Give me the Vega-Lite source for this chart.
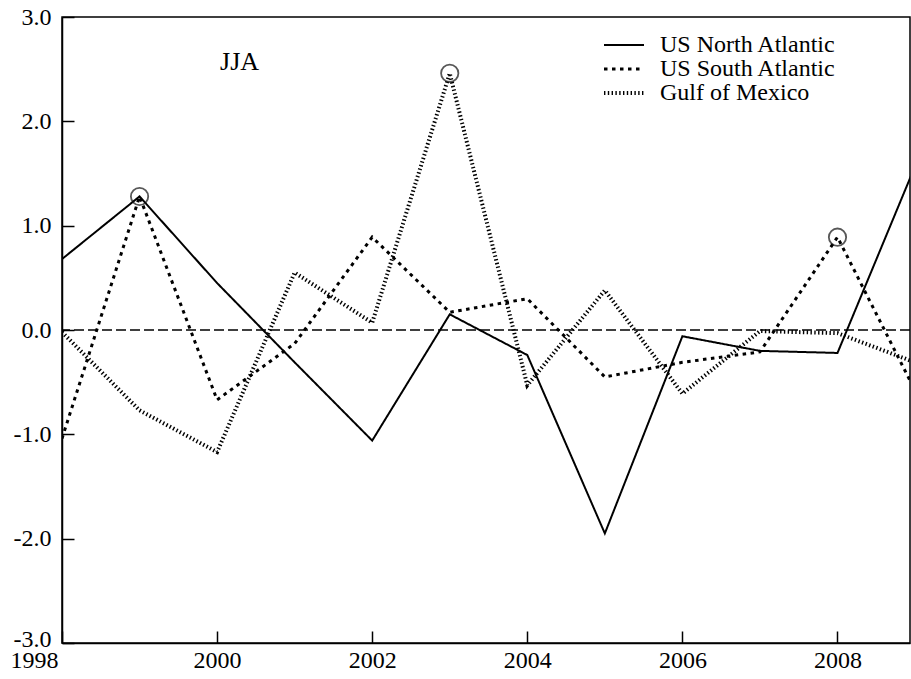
{
  "$schema": "https://vega.github.io/schema/vega-lite/v6.json",
  "width": 848,
  "height": 626,
  "autosize": {"type": "none"},
  "padding": {"left": 62, "top": 17, "right": 1, "bottom": 36},
  "background": "white",
  "config": {
    "view": {"stroke": "black", "strokeWidth": 1.5},
    "font": "Liberation Serif",
    "axis": {
      "grid": false,
      "title": null,
      "domainColor": "black",
      "domainWidth": 1.5,
      "tickColor": "black",
      "tickWidth": 1.5,
      "tickSize": -12,
      "labelFlush": false,
      "labelFont": "Liberation Serif",
      "labelFontSize": 24,
      "labelColor": "black"
    },
    "legend": {
      "orient": "none",
      "legendX": 540,
      "legendY": 16,
      "title": null,
      "symbolType": "M-1,0H3",
      "symbolSize": 400,
      "symbolStrokeColor": "black",
      "labelFont": "Liberation Serif",
      "labelFontSize": 24,
      "labelColor": "black",
      "labelLimit": 400,
      "labelOffset": 34,
      "rowPadding": -2
    }
  },
  "datasets": {
    "series": [
      {"year": 1998, "value": 0.68, "region": "US North Atlantic"},
      {"year": 1999, "value": 1.28, "region": "US North Atlantic"},
      {"year": 2000, "value": 0.45, "region": "US North Atlantic"},
      {"year": 2001, "value": -0.31, "region": "US North Atlantic"},
      {"year": 2002, "value": -1.06, "region": "US North Atlantic"},
      {"year": 2003, "value": 0.15, "region": "US North Atlantic"},
      {"year": 2004, "value": -0.24, "region": "US North Atlantic"},
      {"year": 2005, "value": -1.95, "region": "US North Atlantic"},
      {"year": 2006, "value": -0.06, "region": "US North Atlantic"},
      {"year": 2007, "value": -0.2, "region": "US North Atlantic"},
      {"year": 2008, "value": -0.22, "region": "US North Atlantic"},
      {"year": 2009, "value": 1.57, "region": "US North Atlantic"},
      {"year": 1998, "value": -1.04, "region": "US South Atlantic"},
      {"year": 1999, "value": 1.28, "region": "US South Atlantic"},
      {"year": 2000, "value": -0.67, "region": "US South Atlantic"},
      {"year": 2001, "value": -0.13, "region": "US South Atlantic"},
      {"year": 2002, "value": 0.89, "region": "US South Atlantic"},
      {"year": 2003, "value": 0.17, "region": "US South Atlantic"},
      {"year": 2004, "value": 0.3, "region": "US South Atlantic"},
      {"year": 2005, "value": -0.45, "region": "US South Atlantic"},
      {"year": 2006, "value": -0.31, "region": "US South Atlantic"},
      {"year": 2007, "value": -0.21, "region": "US South Atlantic"},
      {"year": 2008, "value": 0.89, "region": "US South Atlantic"},
      {"year": 2009, "value": -0.58, "region": "US South Atlantic"},
      {"year": 1998, "value": -0.02, "region": "Gulf of Mexico"},
      {"year": 1999, "value": -0.77, "region": "Gulf of Mexico"},
      {"year": 2000, "value": -1.17, "region": "Gulf of Mexico"},
      {"year": 2001, "value": 0.55, "region": "Gulf of Mexico"},
      {"year": 2002, "value": 0.07, "region": "Gulf of Mexico"},
      {"year": 2003, "value": 2.46, "region": "Gulf of Mexico"},
      {"year": 2004, "value": -0.53, "region": "Gulf of Mexico"},
      {"year": 2005, "value": 0.38, "region": "Gulf of Mexico"},
      {"year": 2006, "value": -0.61, "region": "Gulf of Mexico"},
      {"year": 2007, "value": -0.01, "region": "Gulf of Mexico"},
      {"year": 2008, "value": -0.03, "region": "Gulf of Mexico"},
      {"year": 2009, "value": -0.31, "region": "Gulf of Mexico"}
    ],
    "peaks": [
      {"year": 1999, "value": 1.28},
      {"year": 2003, "value": 2.46},
      {"year": 2008, "value": 0.89}
    ],
    "season": [
      {"year": 2000.29, "value": 2.57, "text": "JJA"}
    ],
    "baseline": [
      {"value": 0}
    ]
  },
  "encoding": {
    "x": {
      "field": "year",
      "type": "quantitative",
      "scale": {"domain": [1998, 2008.935], "nice": false, "zero": false},
      "axis": {
        "values": [1998, 2000, 2002, 2004, 2006, 2008],
        "format": "d",
        "labelPadding": 17,
        "labelFlush": false,
        "labelAlign": {"condition": {"test": "datum.value == 1998", "value": "right"}, "value": "center"},
        "labelOffset": {"condition": {"test": "datum.value == 1998", "value": -4}, "value": 0}
      }
    },
    "y": {
      "field": "value",
      "type": "quantitative",
      "scale": {"domain": [-3, 3], "nice": false},
      "axis": {
        "values": [-3, -2, -1, 0, 1, 2, 3],
        "labelExpr": "datum.value < 0 ? '-' + format(-datum.value, '.1f') : format(datum.value, '.1f')",
        "labelPadding": 23,
        "labelFlush": false,
        "labelOffset": {"condition": {"test": "datum.value == -3", "value": -4}, "value": 0}
      }
    }
  },
  "layer": [
    {
      "data": {"name": "baseline"},
      "mark": {"type": "rule", "color": "black", "strokeWidth": 1.4, "strokeDash": [10, 4]},
      "encoding": {
        "x": null,
        "y": {"field": "value", "type": "quantitative"}
      }
    },
    {
      "data": {"name": "series"},
      "mark": {"type": "line", "color": "black", "clip": true, "strokeCap": "butt"},
      "encoding": {
        "strokeDash": {
          "field": "region",
          "type": "nominal",
          "scale": {
            "domain": ["US North Atlantic", "US South Atlantic", "Gulf of Mexico"],
            "range": [[1, 0], [3.5, 4.5], [1.4, 2.4]]
          }
        },
        "strokeWidth": {
          "field": "region",
          "type": "nominal",
          "scale": {
            "domain": ["US North Atlantic", "US South Atlantic", "Gulf of Mexico"],
            "range": [2, 4, 1.2]
          }
        }
      }
    },
    {
      "data": {"name": "peaks"},
      "mark": {"type": "point", "shape": "circle", "filled": false, "size": 300, "stroke": "#111", "strokeWidth": 1.8}
    },
    {
      "data": {"name": "season"},
      "mark": {"type": "text", "font": "Liberation Serif", "fontSize": 26, "color": "black", "align": "center", "baseline": "middle"},
      "encoding": {"text": {"field": "text"}}
    }
  ]
}
